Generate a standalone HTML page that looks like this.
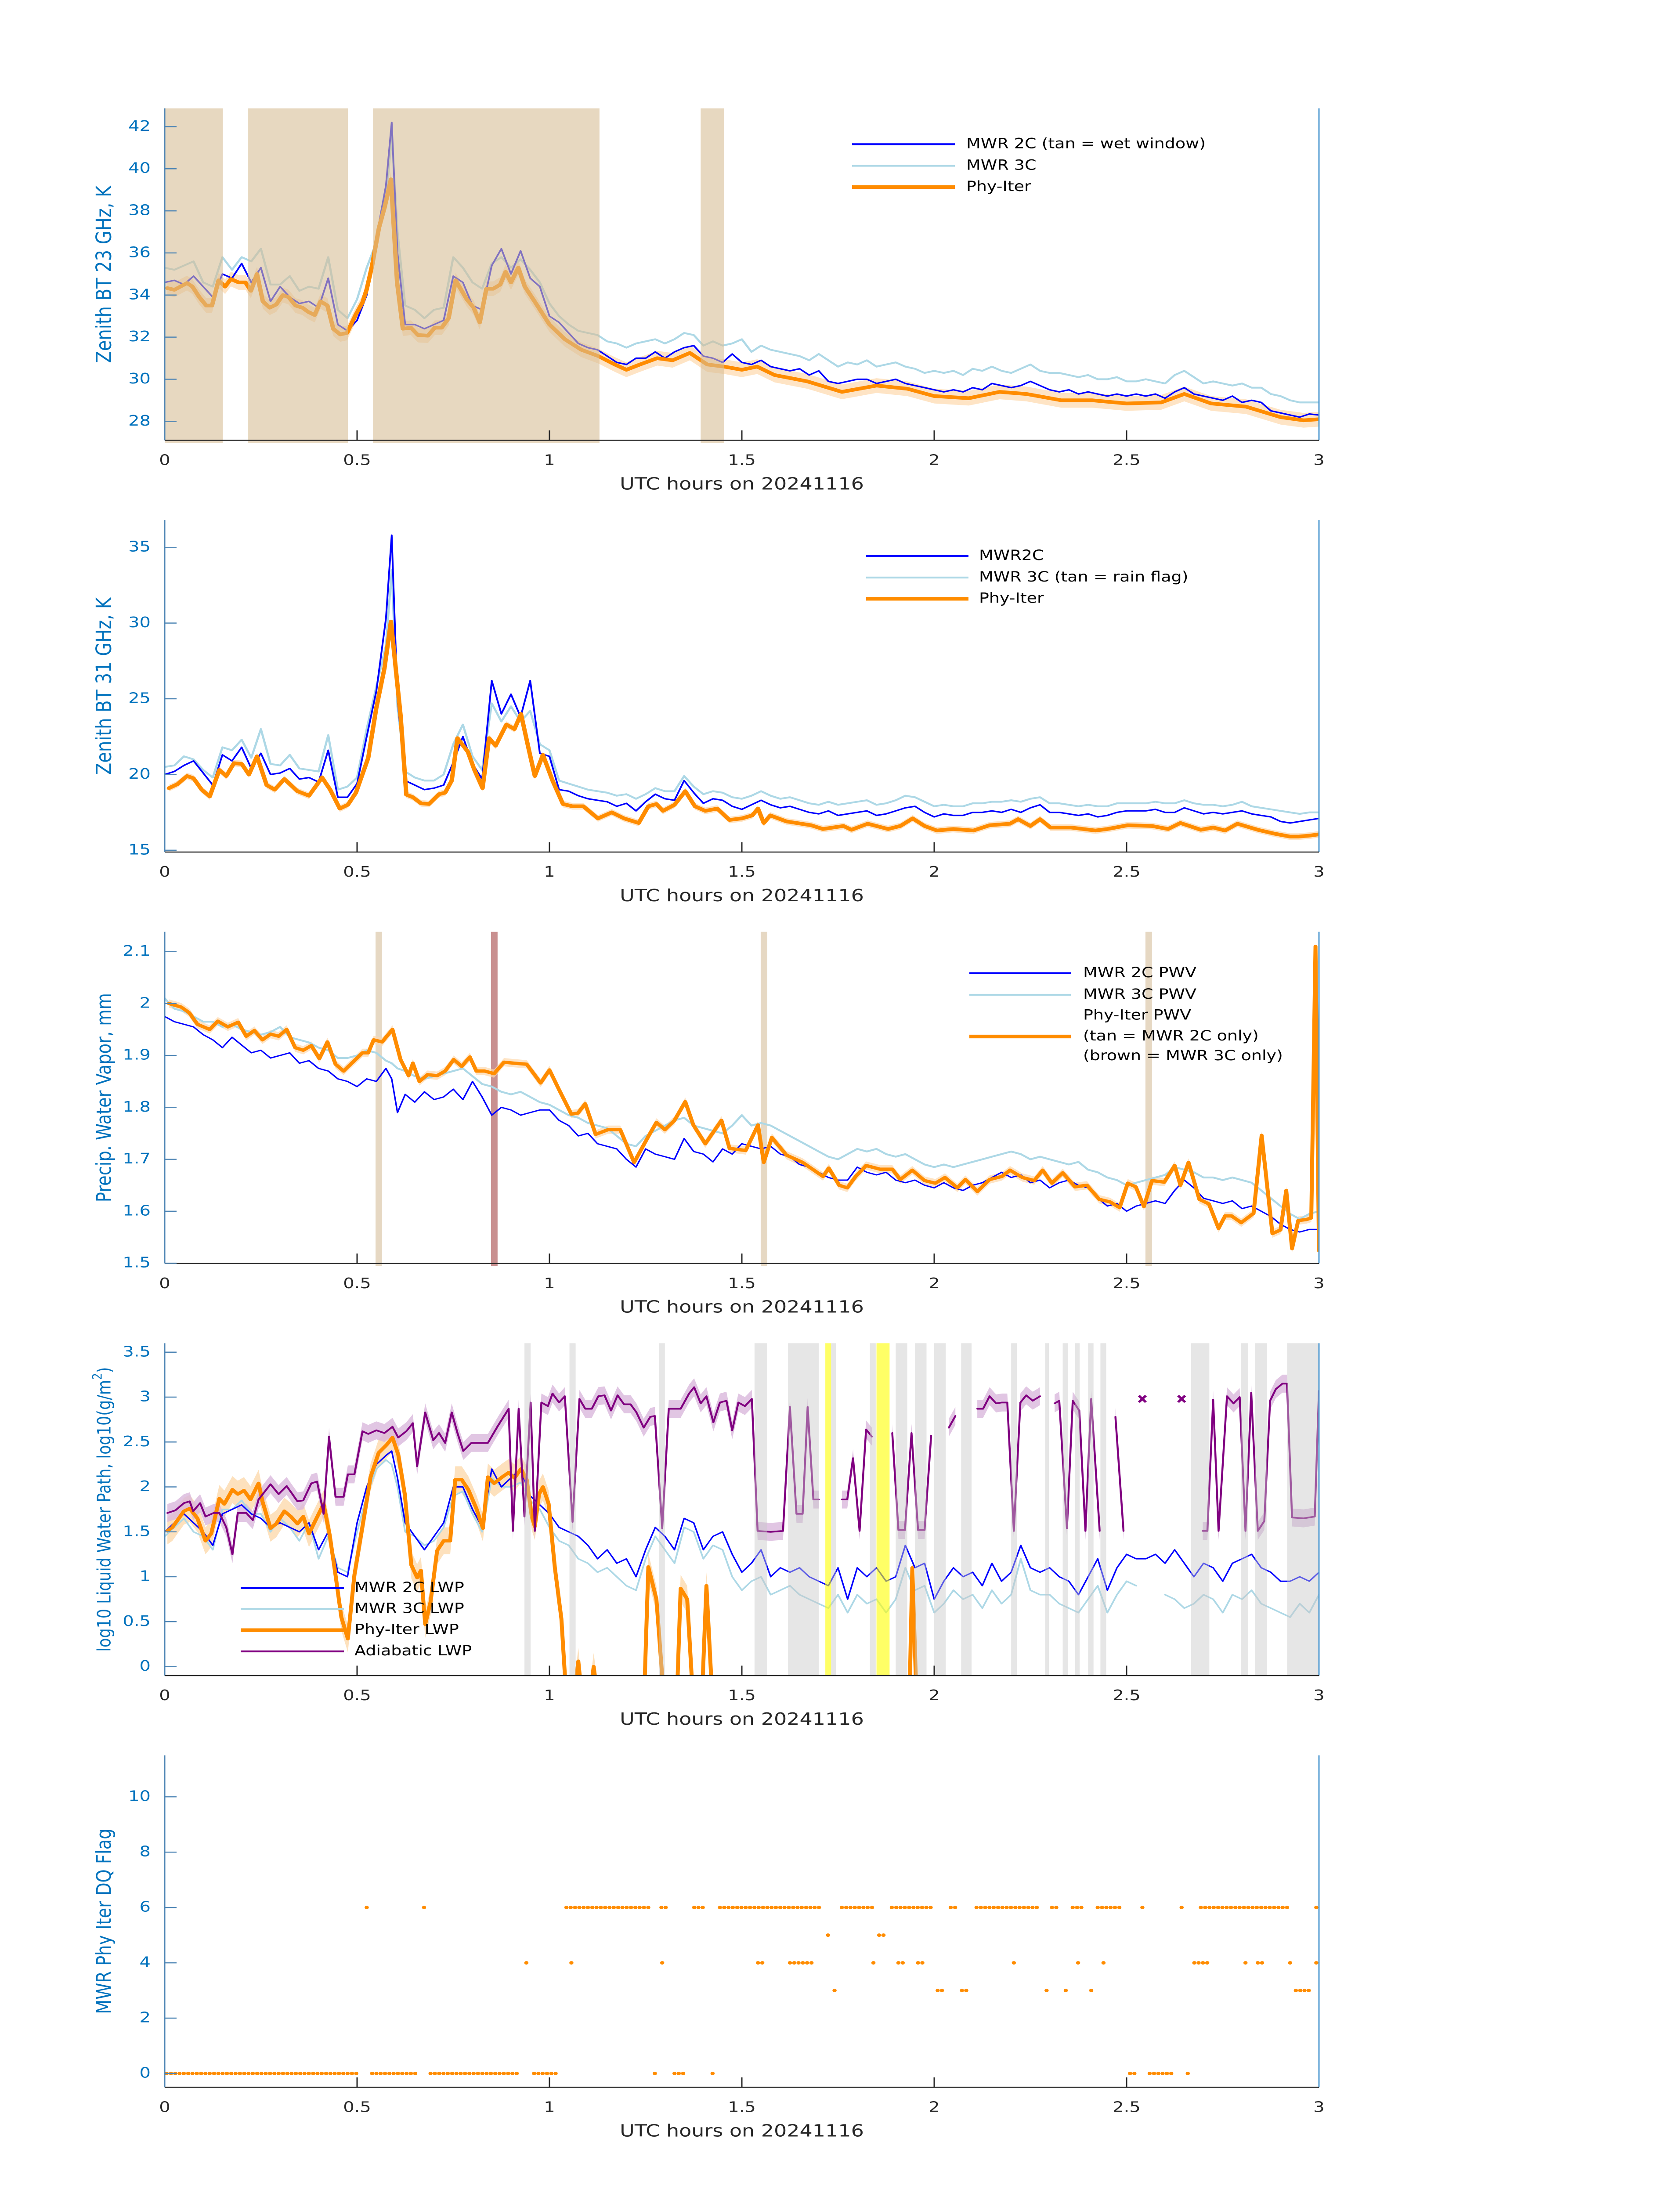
<!DOCTYPE html>
<html><head><meta charset="utf-8"><title>MWR retrievals 20241116</title>
<style>
html,body{margin:0;padding:0;background:#fff;width:100vw;height:100vh;overflow:hidden;}
svg{display:block;position:absolute;left:0;top:0;width:100vw;height:100vh;font-family:"DejaVu Sans","Liberation Sans",sans-serif;}
</style></head>
<body>
<svg id="chart" xmlns="http://www.w3.org/2000/svg" viewBox="0 0 3825 6000" preserveAspectRatio="none">
<rect x="0" y="0" width="3825" height="6000" fill="#ffffff"/>
<defs id="defs"></defs>
</svg>
<script>
// ---------- shared time grid (hours) ----------
const grid = [0,0.025,0.05,0.075,0.1,0.125,0.15,0.175,0.2,0.225,0.25,0.275,0.3,0.325,0.35,0.375,0.4,0.425,0.45,0.475,0.5,0.525,0.55,0.575,0.59,0.605,0.625,0.65,0.675,0.7,0.725,0.75,0.775,0.8,0.825,0.85,0.875,0.9,0.925,0.95,0.975,1.0,1.025,1.05,1.075,1.1,1.125,1.15,1.175,1.2,1.225,1.25,1.275,1.3,1.325,1.35,1.375,1.4,1.425,1.45,1.475,1.5,1.525,1.55,1.575,1.6,1.625,1.65,1.675,1.7,1.725,1.75,1.775,1.8,1.825,1.85,1.875,1.9,1.925,1.95,1.975,2.0,2.025,2.05,2.075,2.1,2.125,2.15,2.175,2.2,2.225,2.25,2.275,2.3,2.325,2.35,2.375,2.4,2.425,2.45,2.475,2.5,2.525,2.55,2.575,2.6,2.625,2.65,2.675,2.7,2.725,2.75,2.775,2.8,2.825,2.85,2.875,2.9,2.925,2.95,2.975,3.0];
const xTickLabels = ["0","0.5","1","1.5","2","2.5","3"];
const xTickValues = [0,0.5,1,1.5,2,2.5,3];

// ---------- Panel 1: 23 GHz ----------
const bt23_mwr2c = [34.6,34.7,34.5,34.9,34.4,33.9,35.0,34.8,35.5,34.6,35.3,33.7,34.4,33.9,33.6,33.7,33.4,34.8,32.6,32.3,32.8,34.0,36.7,39.2,42.2,36.0,32.6,32.6,32.4,32.6,32.8,34.9,34.6,33.5,33.3,35.4,36.2,35.0,36.1,34.8,34.4,33.0,32.7,32.2,31.7,31.5,31.4,31.1,30.8,30.7,31.0,31.0,31.3,31.0,31.3,31.5,31.6,31.1,31.0,30.8,31.2,30.8,30.7,30.9,30.6,30.5,30.4,30.5,30.2,30.4,29.9,29.8,29.9,30.0,30.0,29.8,29.9,30.0,29.8,29.7,29.6,29.5,29.4,29.5,29.4,29.6,29.5,29.8,29.7,29.6,29.7,29.9,29.7,29.5,29.4,29.5,29.3,29.4,29.3,29.2,29.3,29.2,29.3,29.2,29.3,29.1,29.4,29.6,29.3,29.2,29.1,29.0,29.2,28.9,29.0,28.9,28.5,28.4,28.3,28.2,28.35,28.3];
const bt23_mwr3c = [35.3,35.2,35.4,35.6,34.6,34.4,35.8,35.2,35.8,35.6,36.2,34.5,34.5,34.9,34.2,34.4,34.3,35.8,33.3,32.9,33.8,35.3,36.5,38.5,41.6,37.0,33.5,33.3,32.9,33.3,33.4,35.8,35.3,34.6,34.3,35.5,35.8,35.3,35.7,35.2,34.6,33.6,33.0,32.6,32.3,32.2,32.1,31.8,31.7,31.5,31.7,31.8,31.9,31.7,31.9,32.2,32.1,31.6,31.8,31.6,31.7,31.9,31.3,31.6,31.4,31.3,31.2,31.1,30.9,31.2,30.9,30.6,30.8,30.7,30.9,30.6,30.7,30.8,30.6,30.5,30.3,30.4,30.3,30.4,30.2,30.5,30.4,30.6,30.4,30.3,30.5,30.7,30.4,30.3,30.3,30.2,30.1,30.2,30.0,30.0,30.1,29.9,29.9,30.0,29.9,29.8,30.2,30.4,30.1,29.8,29.9,29.8,29.7,29.8,29.6,29.6,29.3,29.2,29.0,28.9,28.9,28.9];
const bt23_phyTimes = [0.007,0.025,0.058,0.072,0.09,0.108,0.123,0.14,0.157,0.172,0.192,0.21,0.224,0.24,0.255,0.273,0.29,0.307,0.322,0.34,0.358,0.373,0.39,0.405,0.423,0.438,0.456,0.474,0.496,0.514,0.525,0.539,0.557,0.572,0.588,0.604,0.619,0.64,0.658,0.684,0.702,0.72,0.738,0.756,0.785,0.803,0.819,0.836,0.854,0.872,0.886,0.9,0.919,0.936,0.965,1.0,1.04,1.083,1.127,1.17,1.2,1.235,1.28,1.32,1.365,1.41,1.454,1.5,1.54,1.585,1.67,1.76,1.85,1.93,2.0,2.09,2.17,2.24,2.33,2.41,2.5,2.59,2.65,2.72,2.81,2.9,2.96,3.0];
const bt23_phy = [34.33,34.25,34.57,34.4,33.9,33.5,33.5,34.7,34.4,34.76,34.6,34.6,34.2,35.0,33.7,33.4,33.55,34.0,33.9,33.5,33.4,33.2,33.05,33.7,33.5,32.4,32.13,32.2,33.05,33.65,34.27,35.4,37.2,38.2,39.5,34.6,32.4,32.45,32.1,32.07,32.45,32.45,32.9,34.7,33.8,33.4,32.7,34.3,34.3,34.5,35.1,34.6,35.3,34.4,33.6,32.6,31.9,31.4,31.1,30.7,30.45,30.7,31.0,30.9,31.25,30.7,30.6,30.45,30.6,30.2,29.9,29.4,29.7,29.55,29.2,29.1,29.4,29.3,29.0,29.0,28.85,28.9,29.3,28.85,28.7,28.2,28.05,28.1];
const wetWindowStart = [0.0,0.217,0.541,1.393];
const wetWindowEnd = [0.151,0.476,1.13,1.454];
const p1Ticks = [28,30,32,34,36,38,40,42];

// ---------- Panel 2: 31 GHz ----------
const bt31_mwr2c = [20.0,20.2,20.6,20.9,20.1,19.3,21.3,20.9,21.8,20.4,21.4,20.0,20.1,20.4,19.7,19.8,19.5,21.6,18.5,18.5,19.4,22.5,25.5,30.3,35.8,25.0,19.6,19.3,19.0,19.1,19.3,20.8,22.5,20.7,19.7,26.2,24.0,25.3,23.8,26.2,21.4,21.2,19.0,18.9,18.6,18.4,18.3,18.2,17.9,18.1,17.6,18.2,18.7,18.4,18.3,19.6,18.8,18.1,18.4,18.3,17.9,17.7,18.0,18.3,18.0,17.8,17.9,17.7,17.5,17.4,17.6,17.3,17.4,17.5,17.6,17.3,17.4,17.6,17.8,17.9,17.5,17.2,17.4,17.3,17.3,17.5,17.5,17.6,17.5,17.7,17.5,17.8,18.0,17.5,17.5,17.4,17.3,17.4,17.2,17.3,17.5,17.6,17.6,17.6,17.7,17.5,17.5,17.8,17.6,17.4,17.5,17.4,17.5,17.6,17.4,17.3,17.2,16.9,16.8,16.9,17.0,17.1];
const bt31_mwr3c = [20.5,20.6,21.2,21.0,20.3,19.8,21.8,21.6,22.3,21.1,23.0,20.7,20.6,21.3,20.4,20.3,20.2,22.6,19.0,19.2,19.8,23.0,25.8,28.5,33.5,24.5,20.2,19.8,19.6,19.6,20.0,22.0,23.3,21.2,20.3,24.7,23.5,24.5,23.5,24.2,22.0,21.6,19.6,19.4,19.2,19.0,18.9,18.8,18.6,18.7,18.4,18.7,19.1,18.9,18.9,19.9,19.2,18.7,18.9,18.8,18.5,18.4,18.6,18.9,18.6,18.4,18.5,18.3,18.1,18.0,18.2,18.0,18.1,18.2,18.3,18.0,18.1,18.3,18.6,18.5,18.2,17.9,18.0,17.9,17.9,18.1,18.1,18.2,18.2,18.3,18.2,18.4,18.5,18.1,18.1,18.0,17.9,18.0,17.9,17.9,18.1,18.1,18.1,18.1,18.2,18.1,18.1,18.3,18.1,18.0,18.0,17.9,18.0,18.2,17.9,17.8,17.7,17.6,17.5,17.4,17.5,17.5];
const bt31_phyTimes = [0.011,0.033,0.058,0.075,0.096,0.117,0.142,0.16,0.18,0.2,0.219,0.24,0.265,0.286,0.311,0.345,0.375,0.409,0.43,0.455,0.476,0.497,0.529,0.55,0.571,0.588,0.613,0.628,0.645,0.666,0.687,0.713,0.729,0.746,0.761,0.788,0.805,0.826,0.843,0.86,0.888,0.909,0.926,0.945,0.962,0.983,1.008,1.035,1.06,1.088,1.126,1.162,1.194,1.232,1.257,1.278,1.295,1.325,1.353,1.378,1.405,1.436,1.468,1.5,1.527,1.542,1.557,1.574,1.616,1.68,1.711,1.764,1.785,1.827,1.88,1.912,1.944,1.975,2.007,2.049,2.102,2.144,2.197,2.218,2.25,2.275,2.302,2.355,2.419,2.45,2.503,2.566,2.608,2.64,2.693,2.725,2.756,2.788,2.841,2.883,2.925,2.946,2.978,3.0];
const bt31_phy = [19.1,19.36,19.9,19.75,19.0,18.55,20.3,19.9,20.75,20.7,20.0,21.2,19.3,19.0,19.7,18.9,18.6,19.8,19.0,17.75,18.0,18.8,21.1,24.4,27.0,30.1,23.9,18.67,18.5,18.1,18.05,18.7,18.8,19.6,22.4,21.5,20.3,19.1,22.4,21.9,23.3,23.0,24.0,21.8,19.9,21.3,19.6,18.05,17.9,17.9,17.1,17.5,17.1,16.8,17.9,18.05,17.6,18.0,18.9,17.9,17.6,17.75,17.0,17.1,17.3,17.75,16.8,17.3,16.9,16.65,16.4,16.6,16.35,16.75,16.4,16.6,17.1,16.6,16.3,16.4,16.3,16.65,16.75,17.05,16.6,17.05,16.5,16.5,16.3,16.4,16.65,16.6,16.4,16.8,16.35,16.5,16.3,16.75,16.35,16.1,15.9,15.9,15.97,16.05];
const p2Ticks = [15,20,25,30,35];

// ---------- Panel 3: PWV ----------
const pwv_mwr2c = [1.975,1.965,1.96,1.955,1.94,1.93,1.915,1.935,1.92,1.905,1.91,1.895,1.9,1.905,1.885,1.89,1.875,1.87,1.855,1.85,1.84,1.855,1.85,1.875,1.855,1.79,1.825,1.81,1.83,1.815,1.82,1.835,1.815,1.85,1.82,1.785,1.8,1.795,1.785,1.79,1.795,1.795,1.775,1.765,1.745,1.75,1.73,1.725,1.72,1.7,1.685,1.72,1.71,1.705,1.7,1.74,1.715,1.71,1.695,1.72,1.71,1.73,1.725,1.72,1.725,1.71,1.705,1.69,1.685,1.675,1.665,1.66,1.66,1.685,1.675,1.67,1.675,1.66,1.655,1.66,1.65,1.645,1.655,1.645,1.64,1.65,1.655,1.665,1.675,1.665,1.67,1.655,1.66,1.645,1.655,1.66,1.65,1.645,1.625,1.61,1.615,1.6,1.61,1.615,1.62,1.615,1.64,1.66,1.645,1.625,1.62,1.615,1.62,1.605,1.61,1.6,1.59,1.575,1.565,1.56,1.565,1.565];
const pwv_mwr3c = [2.01,1.99,1.985,1.975,1.965,1.965,1.955,1.96,1.95,1.945,1.94,1.945,1.955,1.935,1.93,1.925,1.915,1.91,1.895,1.895,1.9,1.91,1.905,1.89,1.885,1.875,1.87,1.86,1.855,1.86,1.865,1.87,1.875,1.86,1.845,1.84,1.83,1.825,1.83,1.82,1.81,1.805,1.795,1.785,1.78,1.77,1.765,1.76,1.745,1.73,1.725,1.745,1.755,1.765,1.775,1.78,1.765,1.76,1.755,1.75,1.765,1.785,1.765,1.77,1.765,1.755,1.745,1.735,1.725,1.715,1.705,1.7,1.71,1.72,1.715,1.72,1.71,1.705,1.71,1.7,1.69,1.685,1.69,1.685,1.69,1.695,1.7,1.705,1.71,1.715,1.71,1.7,1.705,1.7,1.695,1.69,1.695,1.68,1.675,1.665,1.66,1.65,1.655,1.66,1.665,1.67,1.685,1.68,1.675,1.665,1.665,1.66,1.665,1.66,1.655,1.64,1.625,1.61,1.595,1.585,1.595,1.6];
const pwv_phyTimes = [0.011,0.043,0.064,0.085,0.117,0.138,0.164,0.191,0.212,0.233,0.254,0.275,0.296,0.317,0.339,0.36,0.381,0.402,0.423,0.444,0.465,0.486,0.514,0.529,0.543,0.565,0.592,0.613,0.634,0.645,0.662,0.683,0.708,0.729,0.751,0.772,0.793,0.81,0.831,0.856,0.882,0.909,0.941,0.977,1.0,1.025,1.057,1.074,1.093,1.12,1.152,1.184,1.22,1.257,1.278,1.3,1.325,1.353,1.374,1.405,1.447,1.468,1.51,1.542,1.557,1.578,1.616,1.658,1.711,1.726,1.753,1.774,1.796,1.823,1.859,1.891,1.912,1.943,1.975,2.003,2.028,2.06,2.081,2.112,2.144,2.176,2.197,2.229,2.26,2.282,2.306,2.334,2.366,2.397,2.429,2.457,2.482,2.503,2.524,2.545,2.566,2.598,2.625,2.64,2.661,2.689,2.714,2.739,2.756,2.773,2.798,2.83,2.851,2.879,2.9,2.915,2.93,2.946,2.967,2.98,2.991,3.0];
const pwv_phy = [2.0,1.993,1.982,1.96,1.95,1.966,1.955,1.964,1.937,1.948,1.93,1.941,1.937,1.95,1.915,1.91,1.919,1.894,1.926,1.883,1.87,1.885,1.905,1.905,1.93,1.926,1.95,1.892,1.861,1.885,1.85,1.863,1.861,1.87,1.892,1.879,1.897,1.87,1.87,1.865,1.887,1.885,1.883,1.847,1.872,1.834,1.787,1.789,1.807,1.748,1.757,1.757,1.694,1.744,1.771,1.757,1.775,1.811,1.766,1.73,1.775,1.721,1.717,1.766,1.694,1.742,1.708,1.694,1.667,1.683,1.65,1.645,1.667,1.688,1.681,1.681,1.661,1.679,1.659,1.654,1.665,1.645,1.661,1.638,1.661,1.667,1.679,1.665,1.659,1.679,1.654,1.674,1.647,1.65,1.623,1.618,1.607,1.654,1.647,1.609,1.659,1.656,1.688,1.65,1.694,1.623,1.614,1.567,1.591,1.591,1.578,1.596,1.746,1.557,1.564,1.64,1.528,1.582,1.584,1.587,2.11,1.524];
const pwvTanTimes = [0.556,1.557,2.557];
const pwvBrownTimes = [0.856];
const p3Ticks = [1.5,1.6,1.7,1.8,1.9,2.0,2.1];
const p3TickLabels = ["1.5","1.6","1.7","1.8","1.9","2","2.1"];

// ---------- Panel 4: LWP ----------
const lwp_mwr2c = [1.5,1.6,1.7,1.6,1.5,1.35,1.7,1.75,1.8,1.7,1.65,1.55,1.6,1.55,1.5,1.6,1.3,1.5,1.05,1.0,1.6,2.0,2.25,2.35,2.4,2.1,1.6,1.45,1.3,1.45,1.6,2.0,2.0,1.75,1.55,2.2,2.0,2.1,2.2,1.9,1.8,1.7,1.55,1.5,1.45,1.35,1.2,1.3,1.15,1.2,1.0,1.3,1.55,1.45,1.3,1.65,1.6,1.3,1.45,1.5,1.25,1.05,1.15,1.3,1.0,1.1,1.05,1.1,1.0,0.95,0.9,1.1,0.75,1.1,1.0,1.1,0.95,1.0,1.35,1.1,1.15,0.75,0.95,1.1,1.0,1.05,0.9,1.15,0.95,1.05,1.35,1.1,1.05,1.1,1.0,0.95,0.8,1.0,1.2,0.85,1.1,1.25,1.2,1.2,1.25,1.15,1.3,1.15,1.0,1.15,1.1,0.95,1.15,1.2,1.25,1.1,1.05,0.95,0.95,1.0,0.95,1.05];
const lwp_mwr3c = [1.45,1.55,1.65,1.5,1.45,1.3,1.75,1.75,1.85,1.7,1.7,1.5,1.65,1.55,1.4,1.6,1.2,1.45,1.1,1.05,1.5,1.9,2.2,2.3,2.25,2.0,1.5,1.45,1.35,1.4,1.55,1.9,1.95,1.7,1.5,2.1,2.0,2.0,2.05,1.85,1.75,1.55,1.4,1.35,1.2,1.15,1.05,1.1,1.0,0.9,0.85,1.2,1.45,1.3,1.15,1.55,1.5,1.2,1.35,1.3,1.0,0.85,0.95,1.0,0.8,0.85,0.9,0.8,0.75,0.7,0.65,0.8,0.6,0.8,0.7,0.75,0.6,0.75,1.1,0.85,0.9,0.6,0.7,0.85,0.75,0.8,0.65,0.85,0.7,0.8,1.2,0.85,0.8,0.8,0.7,0.65,0.6,0.75,0.9,0.6,0.8,0.95,0.9,null,null,0.8,0.75,0.65,0.7,0.8,0.75,0.6,0.8,0.75,0.85,0.7,0.65,0.6,0.55,0.7,0.6,0.8];
const lwp_phyTimes = [0.007,0.02,0.05,0.065,0.085,0.106,0.121,0.142,0.155,0.176,0.19,0.206,0.223,0.244,0.254,0.275,0.29,0.311,0.328,0.345,0.36,0.375,0.391,0.413,0.429,0.444,0.459,0.476,0.493,0.514,0.535,0.556,0.577,0.592,0.607,0.624,0.641,0.656,0.666,0.677,0.691,0.708,0.725,0.742,0.755,0.772,0.789,0.81,0.827,0.84,0.856,0.877,0.894,0.909,0.926,0.941,0.954,0.962,0.973,0.983,0.998,1.014,1.031,1.046,1.06,1.075,1.088,1.1,1.115,1.13,1.2,1.245,1.257,1.278,1.3,1.33,1.341,1.358,1.375,1.395,1.408,1.425,null,1.935,1.943,1.955];
const lwp_phy = [1.51,1.55,1.73,1.76,1.65,1.4,1.48,1.87,1.81,1.97,1.92,1.96,1.86,2.04,1.84,1.54,1.59,1.73,1.67,1.59,1.67,1.48,1.62,1.81,1.46,1.02,0.55,0.31,1.02,1.56,2.11,2.38,2.47,2.55,2.36,1.92,1.13,0.99,1.07,0.47,0.72,1.29,1.4,1.4,2.08,2.08,1.97,1.76,1.54,2.11,2.04,2.11,2.16,2.1,2.2,2.08,1.67,1.56,1.92,2.0,1.81,1.1,0.53,-0.5,-0.5,0.06,-0.5,-0.5,0.0,-0.5,-0.5,-0.5,1.11,0.75,-0.5,-0.5,0.87,0.75,-0.5,-0.5,0.9,-0.5,null,-0.5,1.1,-0.5];
const lwp_adiTimes = [0.007,0.028,0.05,0.065,0.074,0.092,0.106,0.127,0.142,0.16,0.176,0.19,0.212,0.229,0.244,0.275,0.296,0.317,0.345,0.36,0.381,0.396,0.413,0.427,0.444,0.465,0.476,0.493,0.514,0.529,0.55,0.571,0.592,0.607,0.628,0.645,0.656,0.677,0.698,0.713,0.729,0.746,0.761,0.776,0.797,0.818,0.84,0.866,0.894,0.905,0.92,0.935,0.951,0.962,0.979,0.996,1.008,1.025,1.04,1.06,1.078,1.093,1.11,1.127,1.143,1.16,1.177,1.194,1.211,1.226,1.245,1.262,1.274,1.293,1.31,1.325,1.341,1.363,1.376,1.393,1.408,1.426,1.443,1.46,1.475,1.491,1.508,1.526,1.541,1.575,1.607,1.625,1.642,1.658,1.671,1.686,1.7,null,1.76,1.774,1.789,1.806,1.823,1.838,null,1.891,1.907,1.924,1.941,1.958,1.975,1.992,null,2.038,2.055,null,2.112,2.127,2.144,2.161,2.176,2.19,2.207,2.224,2.239,2.256,2.275,null,2.313,2.325,2.345,2.36,2.377,2.393,2.408,2.43,null,2.471,2.492,null,2.698,2.71,2.725,2.739,2.761,2.778,2.794,2.809,2.824,2.841,2.858,2.873,2.888,2.905,2.917,2.93,2.96,2.989,3.0];
const lwp_adi = [1.71,1.74,1.82,1.84,1.73,1.82,1.67,1.71,1.71,1.55,1.25,1.71,1.71,1.63,1.86,2.03,1.92,2.01,1.84,1.85,2.04,2.06,1.7,2.56,1.89,1.89,2.14,2.14,2.62,2.59,2.63,2.6,2.67,2.55,2.62,2.71,2.23,2.83,2.52,2.6,2.49,2.83,2.6,2.4,2.49,2.49,2.49,2.68,2.87,1.51,2.87,1.67,2.94,1.51,2.94,2.9,3.04,2.94,3.01,1.61,2.98,2.87,2.87,3.01,3.02,2.85,3.02,2.92,2.92,2.83,2.66,2.78,2.79,1.54,2.87,2.87,2.87,3.04,3.11,2.93,3.01,2.72,2.94,2.96,2.63,2.94,2.9,2.98,1.51,1.5,1.51,2.89,1.7,1.7,2.89,1.86,1.86,null,1.86,1.86,2.32,1.51,2.64,2.56,null,2.6,1.52,1.52,2.6,1.52,1.52,2.57,null,2.66,2.79,null,2.87,2.87,3.01,2.93,2.94,2.94,1.51,2.94,3.02,2.96,3.01,null,2.93,2.96,1.54,2.96,2.85,1.51,2.98,1.51,null,2.78,1.51,null,1.51,1.51,2.97,1.51,3.01,2.93,3.0,1.51,3.05,1.51,1.62,2.96,3.09,3.15,3.15,1.66,1.65,1.67,3.07];
const lwp_adiMarkTimes = [2.541,2.643];
const lwp_adiMarks = [2.98,2.98];
const grayStart = [0.935,1.052,1.285,1.533,1.62,1.732,1.833,1.90,1.95,2.0,2.07,2.2,2.288,2.334,2.366,2.40,2.432,2.667,2.797,2.834,2.917];
const grayEnd   = [0.951,1.068,1.3,1.565,1.70,1.745,1.848,1.93,1.98,2.03,2.097,2.215,2.298,2.348,2.378,2.414,2.447,2.715,2.815,2.865,3.0];
const yellowStart = [1.717,1.850];
const yellowEnd   = [1.732,1.884];
const p4Ticks = [0,0.5,1,1.5,2,2.5,3,3.5];
const p4TickLabels = ["0","0.5","1","1.5","2","2.5","3","3.5"];

// ---------- Panel 5: DQ flags (runs of consecutive samples) ----------
const flagValues = [0,6,5,4,3];
const flag0Runs = [[0.005,0.508],[0.539,0.656],[0.691,0.926],[0.96,1.025],[1.274,1.274],[1.325,1.356],[1.424,1.424],[2.509,2.524],[2.56,2.625],[2.659,2.659]];
const flag6Runs = [[0.525,0.525],[0.674,0.674],[1.044,1.257],[1.291,1.308],[1.376,1.409],[1.443,1.709],[1.76,1.84],[1.89,1.992],[2.043,2.06],[2.11,2.273],[2.306,2.323],[2.36,2.391],[2.425,2.49],[2.541,2.541],[2.643,2.643],[2.693,2.925],[2.993,3.0]];
const flag5Runs = [[1.724,1.724],[1.857,1.874]];
const flag4Runs = [[0.94,0.94],[1.057,1.057],[1.293,1.293],[1.542,1.557],[1.625,1.692],[1.842,1.842],[1.907,1.924],[1.958,1.975],[2.207,2.207],[2.374,2.374],[2.44,2.44],[2.676,2.71],[2.809,2.809],[2.841,2.858],[2.925,2.925],[2.993,2.993]];
const flag3Runs = [[1.741,1.741],[2.009,2.026],[2.072,2.089],[2.292,2.292],[2.342,2.342],[2.408,2.408],[2.94,2.974]];
const flagSampleStep = 0.0112;
const p5Ticks = [0,2,4,6,8,10];

// ---------- rendering ----------
const NS = "http://www.w3.org/2000/svg";
const svg = document.getElementById("chart");
const defs = document.getElementById("defs");
const X0 = 375, X1 = 3003;
const AXBLUE = "#0072BD", DARK = "#262626";
const C2 = "#0000ff", C3 = "#add8e6", CO = "#ff8c00", CP = "#800080";

function mk(tag, attrs, parent) {
  const e = document.createElementNS(NS, tag);
  for (const k in attrs) e.setAttribute(k, attrs[k]);
  (parent || svg).appendChild(e);
  return e;
}
function xs(h) { return X0 + (X1 - X0) * h / 3; }
function makeY(p) { return v => p.bot - (v - p.ymin) * (p.bot - p.top) / (p.ymax - p.ymin); }

const panels = [
  {top:296, bot:1203, ymin:27.1, ymax:42.87},
  {top:1421, bot:2328, ymin:14.88, ymax:36.8},
  {top:2546, bot:3452, ymin:1.4995, ymax:2.138},
  {top:3670, bot:4578, ymin:-0.1, ymax:3.6},
  {top:4796, bot:5703, ymin:-0.5, ymax:11.5}
];

panels.forEach((p, i) => {
  const cp = mk("clipPath", {id: "clip" + i}, defs);
  mk("rect", {x: X0, y: p.top, width: X1 - X0, height: p.bot - p.top}, cp);
});

function pathD(ts, vs, ys) {
  let d = "", pen = false;
  for (let i = 0; i < vs.length; i++) {
    const t = ts[i], v = vs[i];
    if (t === null || v === null || t === undefined || v === undefined) { pen = false; continue; }
    d += (pen ? "L" : "M") + xs(t).toFixed(1) + "," + ys(v).toFixed(1);
    pen = true;
  }
  return d;
}
function drawLine(g, ts, vs, ys, color, w) {
  return mk("path", {d: pathD(ts, vs, ys), fill: "none", stroke: color, "stroke-width": w, "stroke-linejoin": "round", "stroke-linecap": "round"}, g);
}
function drawBand(g, ts, vs, ys, half, color, op) {
  let segs = [], cur = [];
  for (let i = 0; i < vs.length; i++) {
    if (ts[i] === null || vs[i] === null) { if (cur.length) segs.push(cur); cur = []; continue; }
    cur.push([ts[i], vs[i]]);
  }
  if (cur.length) segs.push(cur);
  let d = "";
  segs.forEach(s => {
    if (s.length < 2) return;
    s.forEach((q, k) => { d += (k ? "L" : "M") + xs(q[0]).toFixed(1) + "," + ys(q[1] + half).toFixed(1); });
    for (let k = s.length - 1; k >= 0; k--) d += "L" + xs(s[k][0]).toFixed(1) + "," + ys(s[k][1] - half).toFixed(1);
    d += "Z";
  });
  return mk("path", {d: d, fill: color, "fill-opacity": op, stroke: "none"}, g);
}

function drawAxes(i, ticks, labels, ylabel, ylabelSize) {
  const p = panels[i], ys = makeY(p);
  const g = mk("g", {});
  
  
  const la = mk("line", {x1: X0, y1: p.top, x2: X0, y2: p.bot, stroke: "#4f86b5", "stroke-width": 3}, g);
  
  
  const ra = mk("line", {x1: X1, y1: p.top, x2: X1, y2: p.bot, stroke: "#4f9ad0", "stroke-width": 3}, g);
  
  
  const ba = mk("line", {x1: X0, y1: p.bot, x2: X1, y2: p.bot, stroke: DARK, "stroke-width": 3}, g);
  
  
  ticks.forEach((v, k) => {
    const y = ys(v);
    const tk = mk("line", {x1: X0, y1: y, x2: X0 + 27, y2: y, stroke: "#4f86b5", "stroke-width": 3}, g);
    
    
    const tl = mk("text", {x: 343, y: y, "text-anchor": "end", "dominant-baseline": "middle", "font-size": 40, fill: AXBLUE}, g);
    tl.textContent = labels ? labels[k] : String(v);
    
    
  });
  xTickValues.forEach((h, k) => {
    const x = xs(h);
    if (k > 0 && k < xTickValues.length - 1) {
      const tk = mk("line", {x1: x, y1: p.bot, x2: x, y2: p.bot - 27, stroke: DARK, "stroke-width": 3}, g);
      
      
    }
    const tl = mk("text", {x: x, y: p.bot + 56, "text-anchor": "middle", "dominant-baseline": "middle", "font-size": 40, fill: DARK}, g);
    tl.textContent = xTickLabels[k];
    
    
  });
  const xl = mk("text", {x: (X0 + X1) / 2, y: p.bot + 122, "text-anchor": "middle", "dominant-baseline": "middle", "font-size": 46, fill: DARK}, g);
  xl.textContent = "UTC hours on 20241116";
  
  
  const cy = (p.top + p.bot) / 2;
  const yl = mk("text", {x: 240, y: cy, "text-anchor": "middle", "dominant-baseline": "middle", "font-size": ylabelSize, fill: AXBLUE, transform: "rotate(-90 240 " + cy + ")"}, g);
  if (Array.isArray(ylabel)) {
    yl.appendChild(document.createTextNode(ylabel[0]));
    const sup = mk("tspan", {"baseline-shift": "super", "font-size": ylabelSize * 0.7}, yl);
    sup.textContent = ylabel[1];
    const rest = mk("tspan", {}, yl);
    rest.textContent = ylabel[2];
  } else {
    yl.textContent = ylabel;
  }
  
  
}

function legend(x1, x2, tx, rows) {
  const g = mk("g", {});
  
  
  rows.forEach(r => {
    if (r.color) {
      const ln = mk("line", {x1: x1, y1: r.y, x2: x2, y2: r.y, stroke: r.color, "stroke-width": r.w}, g);
      
      
    }
    const t = mk("text", {x: tx, y: r.y, "dominant-baseline": "middle", "font-size": 38, fill: "#000"}, g);
    t.textContent = r.text;
    
    
  });
}

// ----- Panel 1 -----
(function () {
  const p = panels[0], ys = makeY(p);
  const g = mk("g", {"clip-path": "url(#clip0)"});
  
  
  const band = drawBand(g, bt23_phyTimes, bt23_phy, ys, 0.35, "#fdd9ad", 0.7);
  
  
  const l3 = drawLine(g, grid, bt23_mwr3c, ys, C3, 5);
  
  
  const l2 = drawLine(g, grid, bt23_mwr2c, ys, C2, 4);
  
  
  const lo = drawLine(g, bt23_phyTimes, bt23_phy, ys, CO, 10);
  
  
  wetWindowStart.forEach((s, k) => {
    const r = mk("rect", {x: xs(s), y: p.top, width: xs(wetWindowEnd[k]) - xs(s), height: p.bot - p.top + 7, fill: "rgb(215,190,150)", "fill-opacity": 0.6});
    
    
  });
  drawAxes(0, p1Ticks, null, "Zenith BT 23 GHz, K", 48);
  legend(1940, 2174, 2200, [
    {y: 394, color: C2, w: 5, text: "MWR 2C (tan = wet window)"},
    {y: 453, color: C3, w: 5, text: "MWR 3C"},
    {y: 511, color: CO, w: 10, text: "Phy-Iter"}
  ]);
})();

// ----- Panel 2 -----
(function () {
  const p = panels[1], ys = makeY(p);
  const g = mk("g", {"clip-path": "url(#clip1)"});
  
  
  const band = drawBand(g, bt31_phyTimes, bt31_phy, ys, 0.22, "#fdd9ad", 0.7);
  
  
  const l3 = drawLine(g, grid, bt31_mwr3c, ys, C3, 5);
  
  
  const l2 = drawLine(g, grid, bt31_mwr2c, ys, C2, 4);
  
  
  const lo = drawLine(g, bt31_phyTimes, bt31_phy, ys, CO, 10);
  
  
  drawAxes(1, p2Ticks, null, "Zenith BT 31 GHz, K", 48);
  legend(1972, 2205, 2229, [
    {y: 1519, color: C2, w: 5, text: "MWR2C"},
    {y: 1578, color: C3, w: 5, text: "MWR 3C (tan = rain flag)"},
    {y: 1636, color: CO, w: 10, text: "Phy-Iter"}
  ]);
})();

// ----- Panel 3 -----
(function () {
  const p = panels[2], ys = makeY(p);
  pwvTanTimes.forEach(t => {
    const r = mk("rect", {x: xs(t) - 7, y: p.top, width: 15, height: p.bot - p.top + 7, fill: "#e6d8c3"});
    
    
  });
  pwvBrownTimes.forEach(t => {
    const r = mk("rect", {x: xs(t) - 7, y: p.top, width: 15, height: p.bot - p.top + 7, fill: "#c99090"});
    
    
  });
  const g = mk("g", {"clip-path": "url(#clip2)"});
  
  
  const band = drawBand(g, pwv_phyTimes, pwv_phy, ys, 0.008, "#fdd9ad", 0.7);
  
  
  const l3 = drawLine(g, grid, pwv_mwr3c, ys, C3, 5);
  
  
  const l2 = drawLine(g, grid, pwv_mwr2c, ys, C2, 3.5);
  
  
  const lo = drawLine(g, pwv_phyTimes, pwv_phy, ys, CO, 9);
  
  
  drawAxes(2, p3Ticks, p3TickLabels, "Precip. Water Vapor, mm", 46);
  legend(2207, 2438, 2466, [
    {y: 2659, color: C2, w: 5, text: "MWR 2C PWV"},
    {y: 2718, color: C3, w: 5, text: "MWR 3C PWV"},
    {y: 2775, color: null, w: 0, text: "Phy-Iter PWV"},
    {y: 2832, color: CO, w: 10, text: "(tan = MWR 2C only)"},
    {y: 2886, color: null, w: 0, text: "(brown = MWR 3C only)"}
  ]);
})();

// ----- Panel 4 -----
(function () {
  const p = panels[3], ys = makeY(p);
  const g = mk("g", {"clip-path": "url(#clip3)"});
  
  
  const ob = drawBand(g, lwp_phyTimes, lwp_phy, ys, 0.15, "#fdd9ad", 0.8);
  
  
  const pb = drawBand(g, lwp_adiTimes, lwp_adi, ys, 0.1, "#d9b8dc", 0.8);
  
  
  const l3 = drawLine(g, grid, lwp_mwr3c, ys, C3, 4);
  
  
  const l2 = drawLine(g, grid, lwp_mwr2c, ys, C2, 3.5);
  
  
  const lo = drawLine(g, lwp_phyTimes, lwp_phy, ys, CO, 9);
  
  
  const lp = drawLine(g, lwp_adiTimes, lwp_adi, ys, CP, 4.5);
  
  
  lwp_adiMarkTimes.forEach((t, k) => {
    const x = xs(t), y = ys(lwp_adiMarks[k]);
    const m = mk("path", {d: "M" + (x - 8) + "," + (y - 9) + "L" + (x + 8) + "," + (y + 9) + "M" + (x + 8) + "," + (y - 9) + "L" + (x - 8) + "," + (y + 9), stroke: CP, "stroke-width": 6, fill: "none"}, g);
    
    
  });
  grayStart.forEach((s, k) => {
    const r = mk("rect", {x: xs(s), y: p.top, width: xs(grayEnd[k]) - xs(s), height: p.bot - p.top, fill: "rgb(200,200,200)", "fill-opacity": 0.45});
    
    
  });
  yellowStart.forEach((s, k) => {
    const r = mk("rect", {x: xs(s), y: p.top, width: xs(yellowEnd[k]) - xs(s), height: p.bot - p.top, fill: "rgb(255,255,0)", "fill-opacity": 0.6});
    
    
  });
  drawAxes(3, p4Ticks, p4TickLabels, ["log10 Liquid Water Path, log10(g/m", "2", ")"], 42);
  legend(548, 783, 807, [
    {y: 4339, color: C2, w: 5, text: "MWR 2C LWP"},
    {y: 4396, color: C3, w: 5, text: "MWR 3C LWP"},
    {y: 4454, color: CO, w: 10, text: "Phy-Iter LWP"},
    {y: 4512, color: CP, w: 5, text: "Adiabatic LWP"}
  ]);
})();

// ----- Panel 5 -----
(function () {
  const p = panels[4], ys = makeY(p);
  const g = mk("g", {"clip-path": "url(#clip4)"});
  
  
  const allRuns = [flag0Runs, flag6Runs, flag5Runs, flag4Runs, flag3Runs];
  allRuns.forEach((runs, k) => {
    const fv = flagValues[k];
    runs.forEach(r => {
      for (let t = r[0]; t <= r[1] + 1e-9; t += flagSampleStep) {
        const c = mk("circle", {cx: xs(t).toFixed(1), cy: ys(fv).toFixed(1), r: 4.8, fill: CO}, g);
        
        
      }
    });
  });
  drawAxes(4, p5Ticks, null, "MWR Phy Iter DQ Flag", 46);
})();
</script>
</body></html>
